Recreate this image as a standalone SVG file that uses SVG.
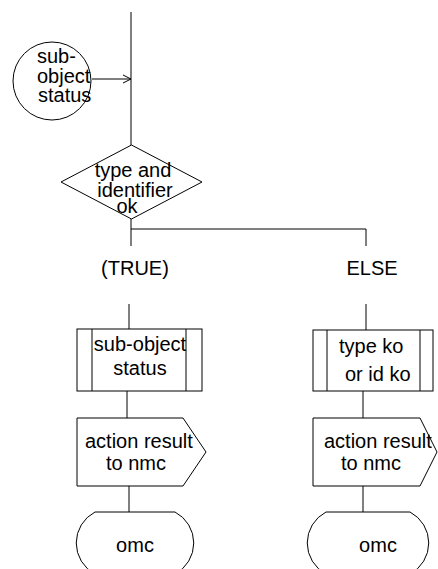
<svg xmlns="http://www.w3.org/2000/svg" width="438" height="569" viewBox="0 0 438 569">
  <style>
    .shape { fill: #fff; stroke: #000; stroke-width: 1; }
    .line { fill: none; stroke: #000; stroke-width: 1; }
    .lbl { font-family: "Liberation Sans", Arial, sans-serif; font-size: 20px; fill: #000; }
    .mid { text-anchor: middle; }
  </style>
  <defs>
    <marker id="openArrow" markerWidth="10" markerHeight="10" refX="9" refY="5" orient="auto" markerUnits="userSpaceOnUse">
      <path d="M1,1 L9,5 L1,9" fill="none" stroke="#000" stroke-width="1"/>
    </marker>
  </defs>
  <rect width="438" height="569" fill="#fff"/>

  <g id="connectors">
    <line class="line" x1="131" y1="12" x2="131" y2="145"/>
    <line class="line" x1="92" y1="79" x2="131" y2="79" marker-end="url(#openArrow)"/>
    <line class="line" x1="131" y1="219" x2="131" y2="246"/>
    <line class="line" x1="131" y1="229" x2="366" y2="229"/>
    <line class="line" x1="366" y1="229" x2="366" y2="246"/>
    <line class="line" x1="129" y1="304" x2="129" y2="329"/>
    <line class="line" x1="366" y1="304" x2="366" y2="330"/>
    <line class="line" x1="127" y1="391" x2="127" y2="418"/>
    <line class="line" x1="363" y1="391" x2="363" y2="418"/>
    <line class="line" x1="129" y1="486" x2="129" y2="512"/>
    <line class="line" x1="363" y1="486" x2="363" y2="512"/>
  </g>

  <g id="input-status">
    <circle class="shape" cx="52" cy="81" r="39"/>
    <text class="lbl" x="37" y="63">sub-</text>
    <text class="lbl" x="37" y="83">object</text>
    <text class="lbl" x="38" y="102">status</text>
  </g>

  <g id="decision">
    <polygon class="shape" points="131.5,145 202,182 131.5,219 61,182"/>
    <text class="lbl mid" x="133" y="177">type and</text>
    <text class="lbl mid" x="135" y="197">identifier</text>
    <text class="lbl mid" x="127" y="213">ok</text>
  </g>

  <g id="answer-true">
    <text class="lbl mid" x="135" y="275">(TRUE)</text>
  </g>

  <g id="answer-else">
    <text class="lbl mid" x="372" y="275">ELSE</text>
  </g>

  <g id="task-status">
    <rect class="shape" x="77" y="329" width="125" height="62"/>
    <line class="line" x1="92" y1="329" x2="92" y2="391"/>
    <line class="line" x1="186" y1="329" x2="186" y2="391"/>
    <text class="lbl mid" x="140" y="351">sub-object</text>
    <text class="lbl mid" x="140" y="375">status</text>
  </g>

  <g id="task-ko">
    <rect class="shape" x="313" y="330" width="120" height="61"/>
    <line class="line" x1="327" y1="330" x2="327" y2="391"/>
    <line class="line" x1="420" y1="330" x2="420" y2="391"/>
    <text class="lbl" x="339" y="353">type ko</text>
    <text class="lbl" x="345" y="381">or id ko</text>
  </g>

  <g id="output-left">
    <path class="shape" d="M77,418 H183 L206,452 L183,486 H77 Z"/>
    <text class="lbl" x="85" y="448">action result</text>
    <text class="lbl" x="106" y="470">to nmc</text>
  </g>

  <g id="output-right">
    <path class="shape" d="M313,418 H420 L437,452 L420,486 H313 Z"/>
    <text class="lbl" x="324" y="448">action result</text>
    <text class="lbl" x="341" y="470">to nmc</text>
  </g>

  <g id="stop-left">
    <path class="shape" d="M95,512 H175 A35,35 0 0 1 175,574 H95 A35,35 0 0 1 95,512 Z"/>
    <text class="lbl mid" x="135" y="552">omc</text>
  </g>

  <g id="stop-right">
    <path class="shape" d="M326,512 H410 A35,35 0 0 1 410,574 H326 A35,35 0 0 1 326,512 Z"/>
    <text class="lbl mid" x="378" y="552">omc</text>
  </g>
</svg>
